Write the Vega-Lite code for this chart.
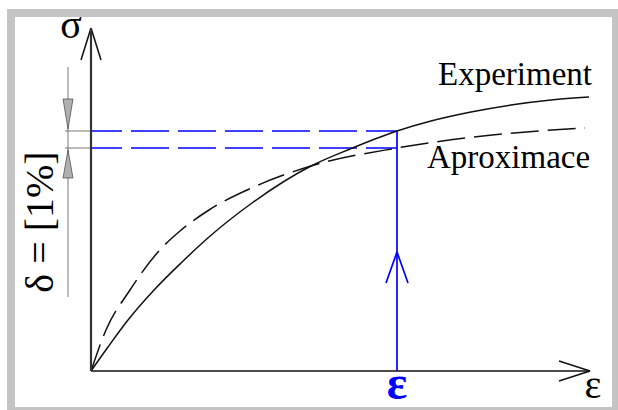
{
  "$schema": "https://vega.github.io/schema/vega-lite/v6.json",
  "width": 618,
  "height": 410,
  "autosize": "none",
  "padding": 0,
  "background": "white",
  "config": {"view": {"stroke": null}},
  "datasets": {
    "frame": [
      {"x": -0.84, "x2": -0.76, "y": 3.62, "y2": -0.39},
      {"x": -0.84, "x2": 5.27, "y": 3.62, "y2": 3.54},
      {"x": 5.21, "x2": 5.27, "y": 3.62, "y2": -0.39},
      {"x": -0.84, "x2": 5.27, "y": -0.36, "y2": -0.39}
    ],
    "segments": [
      {"style": "yaxis", "x": 0, "y": 0, "x2": 0, "y2": 3.43},
      {"style": "axis", "x": 0, "y": 3.43, "x2": -0.10, "y2": 3.11},
      {"style": "axis", "x": 0, "y": 3.43, "x2": 0.10, "y2": 3.11},
      {"style": "axis", "x": 0, "y": 0, "x2": 4.99, "y2": 0},
      {"style": "axis", "x": 4.99, "y": 0, "x2": 4.68, "y2": 0.10},
      {"style": "axis", "x": 4.99, "y": 0, "x2": 4.68, "y2": -0.10},
      {"style": "blue", "x": 3.06, "y": 0, "x2": 3.06, "y2": 2.40},
      {"style": "blue", "x": 3.06, "y": 1.19, "x2": 2.95, "y2": 0.88},
      {"style": "blue", "x": 3.06, "y": 1.19, "x2": 3.17, "y2": 0.88},
      {"style": "bluedash", "x": 0, "y": 2.40, "x2": 3.06, "y2": 2.40},
      {"style": "bluedash", "x": 0, "y": 2.23, "x2": 3.06, "y2": 2.23},
      {"style": "thin", "x": -0.26, "y": 2.40, "x2": 0, "y2": 2.40},
      {"style": "thin", "x": -0.26, "y": 2.23, "x2": 0, "y2": 2.23},
      {"style": "thin", "x": -0.23, "y": 3.04, "x2": -0.23, "y2": 0.74}
    ],
    "triangles": [
      {"tri": "top", "y": 2.72, "x": -0.28, "x2": -0.18},
      {"tri": "top", "y": 2.42, "x": -0.23, "x2": -0.23},
      {"tri": "bottom", "y": 2.21, "x": -0.23, "x2": -0.23},
      {"tri": "bottom", "y": 1.93, "x": -0.28, "x2": -0.18}
    ],
    "curves": [
      {"series": "Experiment", "x": 0, "y": 0},
      {"series": "Experiment", "x": 0.17, "y": 0.24},
      {"series": "Experiment", "x": 0.37, "y": 0.51},
      {"series": "Experiment", "x": 0.64, "y": 0.82},
      {"series": "Experiment", "x": 0.90, "y": 1.08},
      {"series": "Experiment", "x": 1.18, "y": 1.34},
      {"series": "Experiment", "x": 1.61, "y": 1.68},
      {"series": "Experiment", "x": 2.20, "y": 2.05},
      {"series": "Experiment", "x": 2.59, "y": 2.22},
      {"series": "Experiment", "x": 3.06, "y": 2.40},
      {"series": "Experiment", "x": 3.40, "y": 2.50},
      {"series": "Experiment", "x": 3.80, "y": 2.59},
      {"series": "Experiment", "x": 4.20, "y": 2.66},
      {"series": "Experiment", "x": 4.60, "y": 2.71},
      {"series": "Experiment", "x": 4.98, "y": 2.74},
      {"series": "Aproximace", "x": 0, "y": 0},
      {"series": "Aproximace", "x": 0.15, "y": 0.41},
      {"series": "Aproximace", "x": 0.39, "y": 0.81},
      {"series": "Aproximace", "x": 0.67, "y": 1.19},
      {"series": "Aproximace", "x": 0.89, "y": 1.40},
      {"series": "Aproximace", "x": 1.18, "y": 1.61},
      {"series": "Aproximace", "x": 1.65, "y": 1.85},
      {"series": "Aproximace", "x": 2.20, "y": 2.05},
      {"series": "Aproximace", "x": 3.06, "y": 2.23},
      {"series": "Aproximace", "x": 3.82, "y": 2.34},
      {"series": "Aproximace", "x": 4.94, "y": 2.43}
    ],
    "labels": [
      {"kind": "serif", "label": "σ", "x": -0.20, "y": 3.33},
      {"kind": "serifleft", "label": "Experiment", "x": 3.47, "y": 2.86},
      {"kind": "serifleft", "label": "Aproximace", "x": 3.36, "y": 2.03},
      {"kind": "serif", "label": "ε", "x": 5.02, "y": -0.27},
      {"kind": "blue", "label": "ε", "x": 3.06, "y": -0.28},
      {"kind": "rot", "label": "δ = [1%]", "x": -0.38, "y": 1.49}
    ]
  },
  "layer": [
    {
      "data": {"name": "frame"},
      "mark": {"type": "rect", "color": "#c4c4c4"},
      "encoding": {
        "x": {"field": "x", "type": "quantitative", "scale": {"domain": [-0.91, 5.27], "nice": false, "zero": false}, "axis": null},
        "x2": {"field": "x2"},
        "y": {"field": "y", "type": "quantitative", "scale": {"domain": [-0.39, 3.71], "nice": false, "zero": false}, "axis": null},
        "y2": {"field": "y2"}
      }
    },
    {
      "data": {"name": "segments"},
      "transform": [{"filter": "datum.style === 'thin'"}],
      "mark": {"type": "rule", "color": "#555555", "strokeWidth": 0.8},
      "encoding": {
        "x": {"field": "x", "type": "quantitative", "scale": {"domain": [-0.91, 5.27], "nice": false, "zero": false}, "axis": null},
        "x2": {"field": "x2"},
        "y": {"field": "y", "type": "quantitative", "scale": {"domain": [-0.39, 3.71], "nice": false, "zero": false}, "axis": null},
        "y2": {"field": "y2"}
      }
    },
    {
      "data": {"name": "triangles"},
      "mark": {"type": "area", "orient": "horizontal", "fill": "#b0b0b0", "stroke": "#444444", "strokeWidth": 0.7, "fillOpacity": 1},
      "encoding": {
        "y": {"field": "y", "type": "quantitative", "scale": {"domain": [-0.39, 3.71], "nice": false, "zero": false}, "axis": null},
        "x": {"field": "x", "type": "quantitative", "scale": {"domain": [-0.91, 5.27], "nice": false, "zero": false}, "axis": null},
        "x2": {"field": "x2"},
        "detail": {"field": "tri"}
      }
    },
    {
      "data": {"name": "segments"},
      "transform": [{"filter": "datum.style === 'bluedash'"}],
      "mark": {"type": "rule", "color": "#0000ff", "strokeWidth": 1.6, "strokeDash": [38, 9], "strokeDashOffset": 7},
      "encoding": {
        "x": {"field": "x", "type": "quantitative", "scale": {"domain": [-0.91, 5.27], "nice": false, "zero": false}, "axis": null},
        "x2": {"field": "x2"},
        "y": {"field": "y", "type": "quantitative", "scale": {"domain": [-0.39, 3.71], "nice": false, "zero": false}, "axis": null},
        "y2": {"field": "y2"}
      }
    },
    {
      "data": {"name": "segments"},
      "transform": [{"filter": "datum.style === 'blue'"}],
      "mark": {"type": "rule", "color": "#0000ff", "strokeWidth": 1.7},
      "encoding": {
        "x": {"field": "x", "type": "quantitative", "scale": {"domain": [-0.91, 5.27], "nice": false, "zero": false}, "axis": null},
        "x2": {"field": "x2"},
        "y": {"field": "y", "type": "quantitative", "scale": {"domain": [-0.39, 3.71], "nice": false, "zero": false}, "axis": null},
        "y2": {"field": "y2"}
      }
    },
    {
      "data": {"name": "curves"},
      "transform": [{"filter": "datum.series === 'Aproximace'"}],
      "mark": {"type": "line", "color": "#111111", "strokeWidth": 1.5, "interpolate": "monotone", "strokeDash": [28, 9]},
      "encoding": {
        "x": {"field": "x", "type": "quantitative", "scale": {"domain": [-0.91, 5.27], "nice": false, "zero": false}, "axis": null},
        "y": {"field": "y", "type": "quantitative", "scale": {"domain": [-0.39, 3.71], "nice": false, "zero": false}, "axis": null}
      }
    },
    {
      "data": {"name": "curves"},
      "transform": [{"filter": "datum.series === 'Experiment'"}],
      "mark": {"type": "line", "color": "#111111", "strokeWidth": 1.5, "interpolate": "monotone"},
      "encoding": {
        "x": {"field": "x", "type": "quantitative", "scale": {"domain": [-0.91, 5.27], "nice": false, "zero": false}, "axis": null},
        "y": {"field": "y", "type": "quantitative", "scale": {"domain": [-0.39, 3.71], "nice": false, "zero": false}, "axis": null}
      }
    },
    {
      "data": {"name": "segments"},
      "transform": [{"filter": "datum.style === 'axis'"}],
      "mark": {"type": "rule", "color": "#111111", "strokeWidth": 1.5},
      "encoding": {
        "x": {"field": "x", "type": "quantitative", "scale": {"domain": [-0.91, 5.27], "nice": false, "zero": false}, "axis": null},
        "x2": {"field": "x2"},
        "y": {"field": "y", "type": "quantitative", "scale": {"domain": [-0.39, 3.71], "nice": false, "zero": false}, "axis": null},
        "y2": {"field": "y2"}
      }
    },
    {
      "data": {"name": "segments"},
      "transform": [{"filter": "datum.style === 'yaxis'"}],
      "mark": {"type": "rule", "color": "#333333", "strokeWidth": 2.2},
      "encoding": {
        "x": {"field": "x", "type": "quantitative", "scale": {"domain": [-0.91, 5.27], "nice": false, "zero": false}, "axis": null},
        "x2": {"field": "x2"},
        "y": {"field": "y", "type": "quantitative", "scale": {"domain": [-0.39, 3.71], "nice": false, "zero": false}, "axis": null},
        "y2": {"field": "y2"}
      }
    },
    {
      "data": {"name": "labels"},
      "transform": [{"filter": "datum.kind === 'serif'"}],
      "mark": {"type": "text", "font": "Liberation Serif", "fontSize": 40, "align": "center", "baseline": "alphabetic", "color": "#000000"},
      "encoding": {
        "x": {"field": "x", "type": "quantitative", "scale": {"domain": [-0.91, 5.27], "nice": false, "zero": false}, "axis": null},
        "y": {"field": "y", "type": "quantitative", "scale": {"domain": [-0.39, 3.71], "nice": false, "zero": false}, "axis": null},
        "text": {"field": "label"}
      }
    },
    {
      "data": {"name": "labels"},
      "transform": [{"filter": "datum.kind === 'serifleft'"}],
      "mark": {"type": "text", "font": "Liberation Serif", "fontSize": 33, "align": "left", "baseline": "alphabetic", "color": "#000000"},
      "encoding": {
        "x": {"field": "x", "type": "quantitative", "scale": {"domain": [-0.91, 5.27], "nice": false, "zero": false}, "axis": null},
        "y": {"field": "y", "type": "quantitative", "scale": {"domain": [-0.39, 3.71], "nice": false, "zero": false}, "axis": null},
        "text": {"field": "label"}
      }
    },
    {
      "data": {"name": "labels"},
      "transform": [{"filter": "datum.kind === 'blue'"}],
      "mark": {"type": "text", "font": "Liberation Serif", "fontSize": 48, "fontWeight": "bold", "align": "center", "baseline": "alphabetic", "color": "#0000ff"},
      "encoding": {
        "x": {"field": "x", "type": "quantitative", "scale": {"domain": [-0.91, 5.27], "nice": false, "zero": false}, "axis": null},
        "y": {"field": "y", "type": "quantitative", "scale": {"domain": [-0.39, 3.71], "nice": false, "zero": false}, "axis": null},
        "text": {"field": "label"}
      }
    },
    {
      "data": {"name": "labels"},
      "transform": [{"filter": "datum.kind === 'rot'"}],
      "mark": {"type": "text", "font": "Liberation Serif", "fontSize": 40, "angle": 270, "align": "center", "baseline": "alphabetic", "color": "#000000"},
      "encoding": {
        "x": {"field": "x", "type": "quantitative", "scale": {"domain": [-0.91, 5.27], "nice": false, "zero": false}, "axis": null},
        "y": {"field": "y", "type": "quantitative", "scale": {"domain": [-0.39, 3.71], "nice": false, "zero": false}, "axis": null},
        "text": {"field": "label"}
      }
    }
  ]
}
